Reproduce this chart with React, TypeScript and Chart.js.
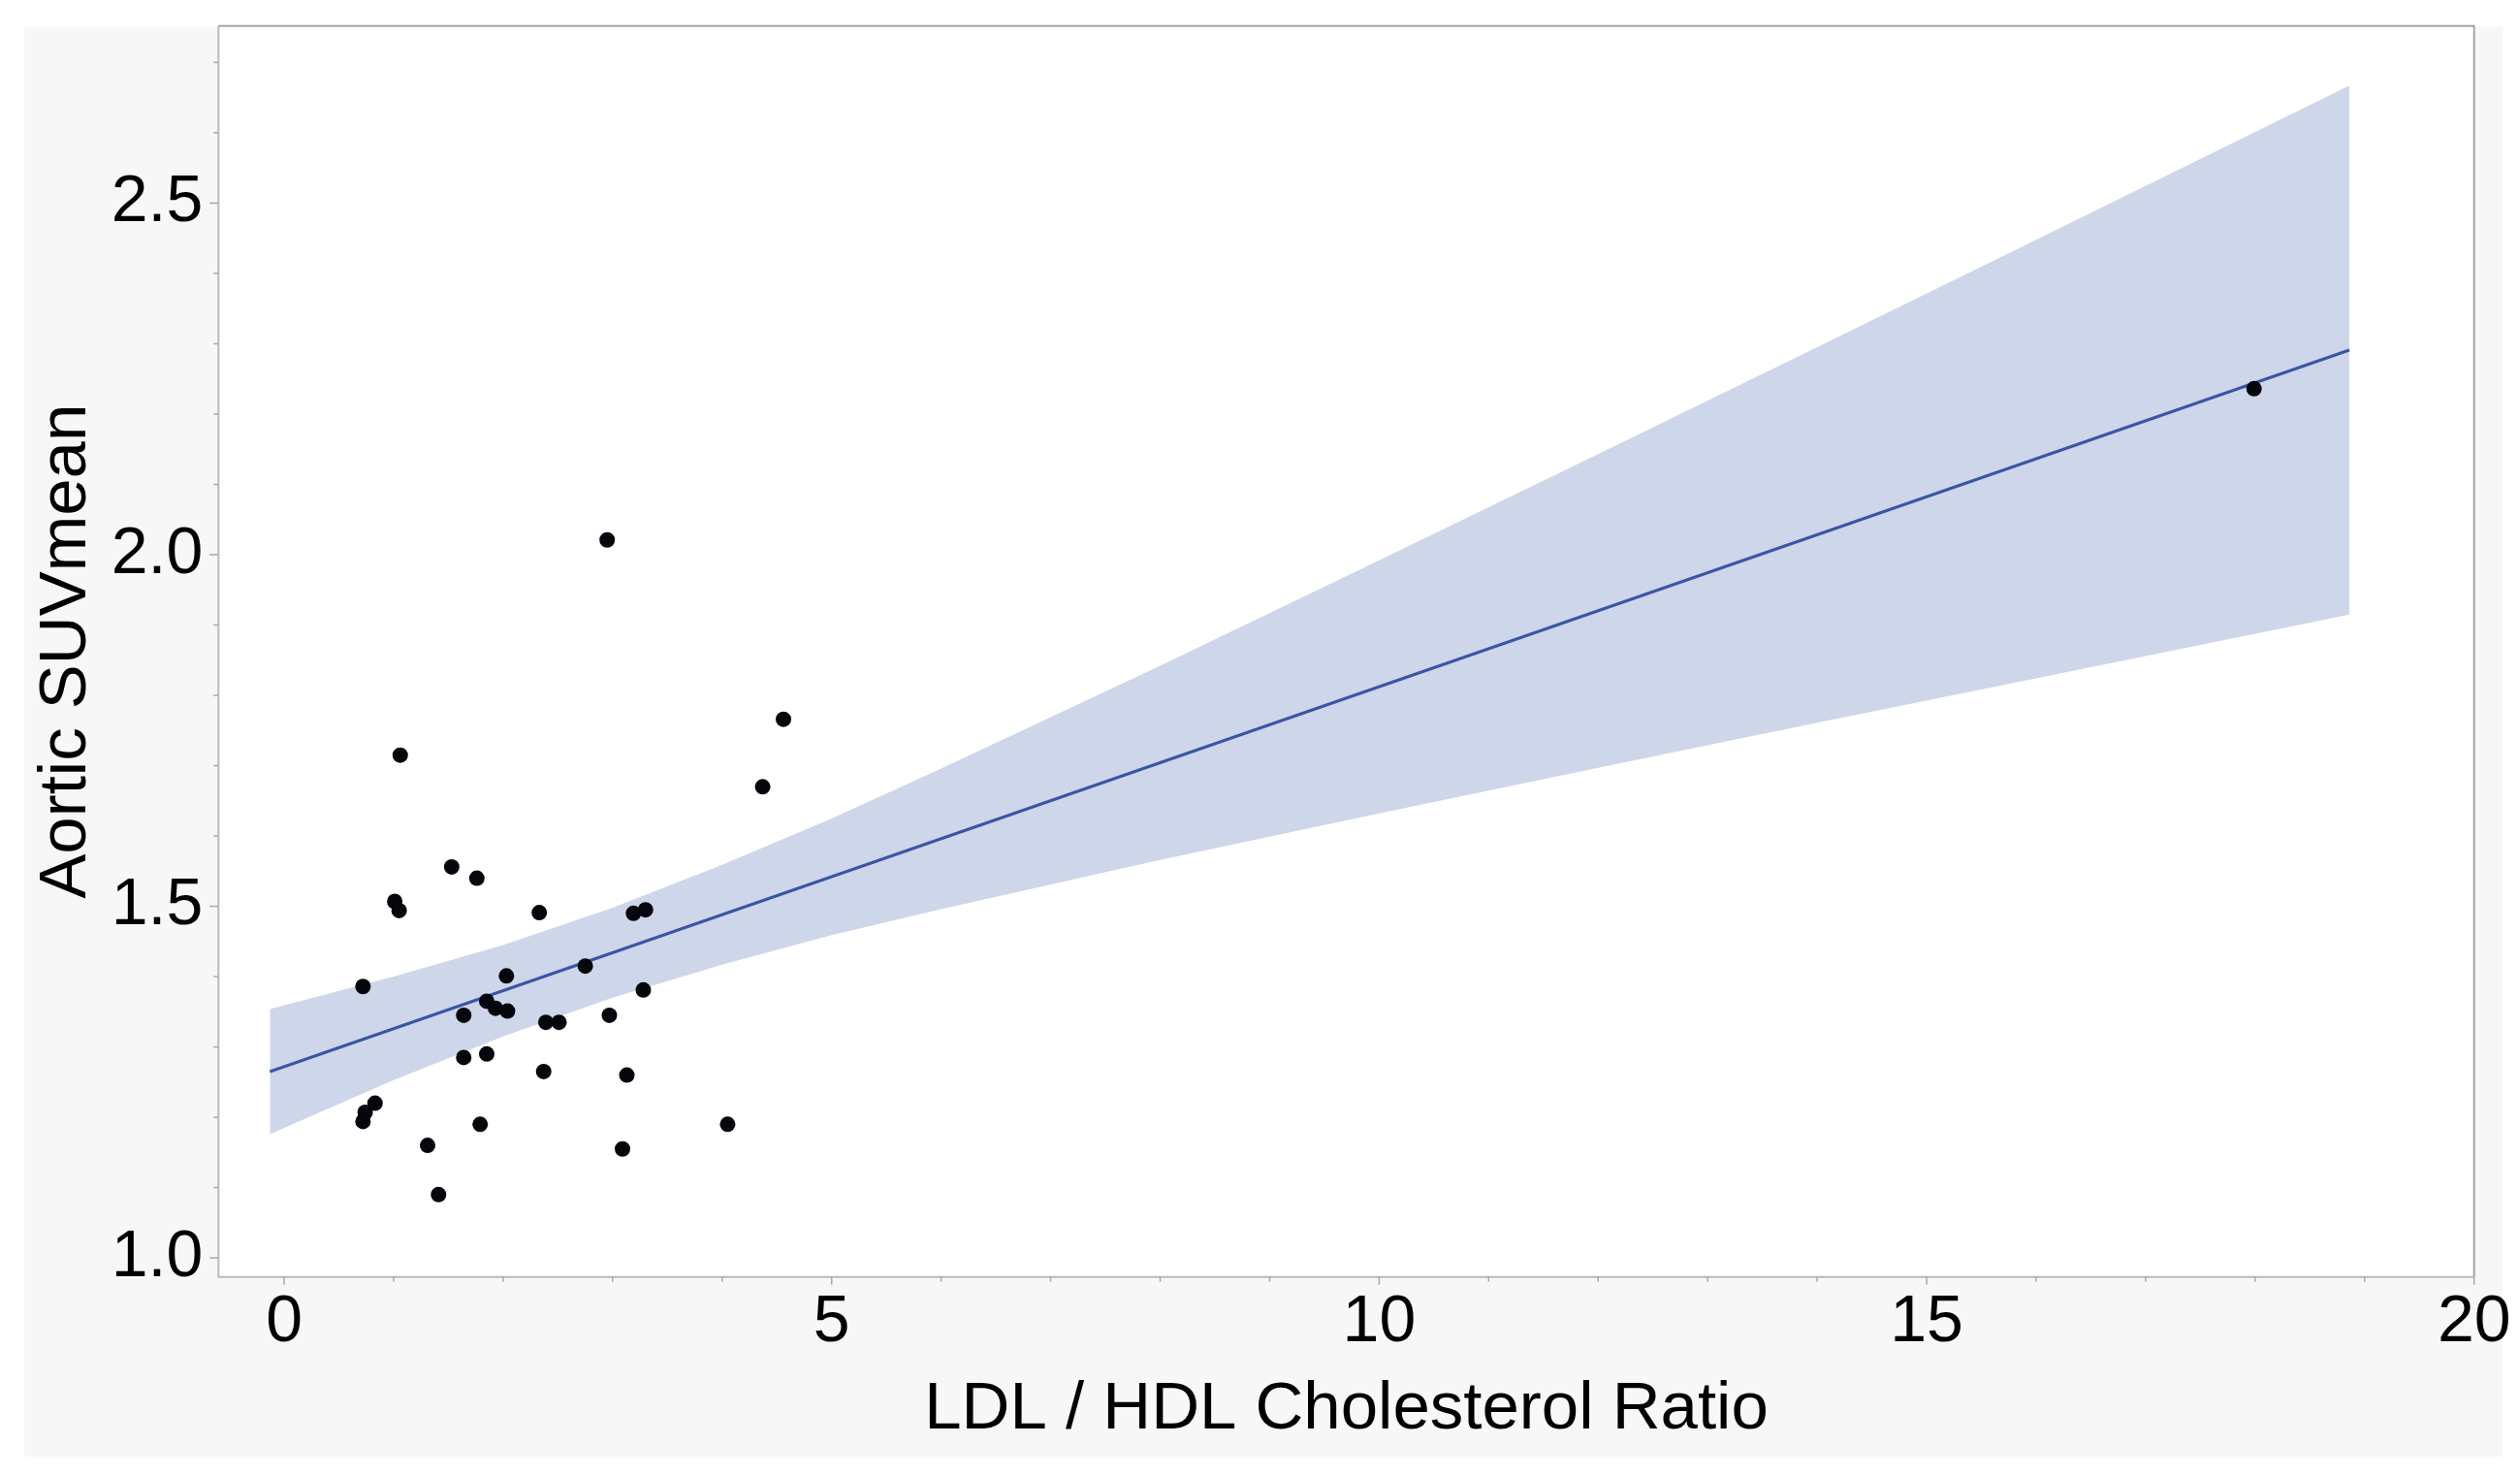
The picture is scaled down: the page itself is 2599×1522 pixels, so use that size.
import React, { useEffect, useRef } from "react";
import { Chart, registerables } from "chart.js";

Chart.register(...registerables);

// Observed points (LDL/HDL ratio, Aortic SUVmean)
const pointX = [
  1.06, 4.56, 4.37, 1.53, 1.76, 1.01, 1.05, 2.33, 3.19, 3.30, 2.75, 0.72,
  2.03, 3.28, 1.85, 1.93, 2.04, 1.64, 2.39, 2.51, 2.97, 1.64, 1.85, 2.37,
  3.13, 0.83, 0.74, 0.72, 1.79, 4.05, 1.31, 3.09, 1.41, 2.95, 17.99,
];
const pointY = [
  1.715, 1.766, 1.670, 1.556, 1.540, 1.507, 1.494, 1.491, 1.490, 1.495, 1.415, 1.386,
  1.401, 1.381, 1.365, 1.355, 1.351, 1.345, 1.335, 1.335, 1.345, 1.285, 1.290, 1.265,
  1.260, 1.220, 1.207, 1.194, 1.190, 1.190, 1.160, 1.155, 1.090, 2.021, 2.236,
];

// Fitted regression line end points
const fitX = [-0.13, 18.86];
const fitY = [1.265, 2.291];

// Confidence band read at several x positions
const bandX = [-0.13, 1, 2, 3, 4, 5, 6, 8, 10, 12, 14, 16, 18.86];
const bandUpper = [1.354, 1.4, 1.445, 1.498, 1.559, 1.625, 1.696, 1.842, 1.992, 2.143, 2.295, 2.448, 2.667];
const bandLower = [1.176, 1.253, 1.315, 1.37, 1.417, 1.459, 1.496, 1.566, 1.632, 1.697, 1.761, 1.824, 1.915];

// Axis definitions
const xMin = -0.6;
const xMax = 20;
const yMin = 0.973;
const yMax = 2.752;
const xMajorStep = 5;
const xMinorStep = 1;
const yMajorStep = 0.5;
const yMinorStep = 0.1;

const xTitle = "LDL / HDL Cholesterol Ratio";
const yTitle = "Aortic SUVmean";

const FONT = "'Liberation Sans', Arial, Helvetica, sans-serif";

const isMultiple = (v: number, step: number) =>
  Math.abs(v / step - Math.round(v / step)) < 1e-6;

const framePlugin = {
  id: "frame",
  beforeDraw(chart: any) {
    const { ctx, chartArea: a } = chart;
    ctx.save();
    ctx.fillStyle = "#f7f7f7";
    ctx.fillRect(25, 27, 2556, 1475);
    ctx.fillStyle = "#ffffff";
    ctx.fillRect(a.left, a.top, a.right - a.left, a.bottom - a.top);
    ctx.restore();
  },
  afterDraw(chart: any) {
    const { ctx, chartArea: a, scales } = chart;
    ctx.save();
    ctx.lineWidth = 2;
    ctx.strokeStyle = "#a4a4a4";
    ctx.beginPath();
    ctx.moveTo(a.left, a.top);
    ctx.lineTo(a.right, a.top);
    ctx.lineTo(a.right, a.bottom);
    ctx.stroke();
    ctx.strokeStyle = "#bababa";
    ctx.beginPath();
    ctx.moveTo(a.left, a.top);
    ctx.lineTo(a.left, a.bottom);
    ctx.lineTo(a.right, a.bottom);
    ctx.stroke();

    ctx.strokeStyle = "#a8a8a8";
    ctx.lineWidth = 1.5;
    scales.x.ticks.forEach((t: any) => {
      const px = scales.x.getPixelForValue(t.value);
      const major = isMultiple(t.value, xMajorStep);
      ctx.beginPath();
      ctx.moveTo(px, a.bottom);
      ctx.lineTo(px, a.bottom + (major ? 8 : 5));
      ctx.stroke();
    });
    scales.y.ticks.forEach((t: any) => {
      const py = scales.y.getPixelForValue(t.value);
      const major = isMultiple(t.value, yMajorStep);
      ctx.beginPath();
      ctx.moveTo(a.left, py);
      ctx.lineTo(a.left - (major ? 9 : 5), py);
      ctx.stroke();
    });
    ctx.restore();
  },
};

export default function App() {
  const ref = useRef<HTMLCanvasElement>(null);

  useEffect(() => {
    if (!ref.current) return;
    const points = pointX.map((x, i) => ({ x, y: pointY[i] }));
    const fit = fitX.map((x, i) => ({ x, y: fitY[i] }));
    const upper = bandX.map((x, i) => ({ x, y: bandUpper[i] }));
    const lower = bandX.map((x, i) => ({ x, y: bandLower[i] }));

    const chart = new Chart(ref.current, {
      type: "scatter",
      data: {
        datasets: [
          {
            label: "Observations",
            data: points,
            backgroundColor: "#05070d",
            borderWidth: 0,
            pointRadius: 8,
            pointHoverRadius: 8,
          },
          {
            label: "Fit",
            data: fit,
            showLine: true,
            borderColor: "#3a55a6",
            borderWidth: 3,
            pointRadius: 0,
            fill: false,
          },
          {
            label: "Upper",
            data: upper,
            showLine: true,
            borderWidth: 0,
            borderColor: "rgba(0,0,0,0)",
            backgroundColor: "#ced7e9",
            pointRadius: 0,
            fill: "+1",
            tension: 0,
          },
          {
            label: "Lower",
            data: lower,
            showLine: true,
            borderWidth: 0,
            borderColor: "rgba(0,0,0,0)",
            pointRadius: 0,
            fill: false,
            tension: 0,
          },
        ],
      },
      options: {
        animation: false,
        responsive: true,
        maintainAspectRatio: false,
        devicePixelRatio: 1,
        layout: { padding: { left: 25, top: 26.7, right: 47.3, bottom: 20 } },
        plugins: {
          legend: { display: false },
          tooltip: { enabled: false },
        },
        scales: {
          x: {
            type: "linear",
            min: xMin,
            max: xMax,
            grid: { display: false, drawTicks: true, tickLength: 7 },
            border: { display: false },
            ticks: {
              stepSize: xMinorStep,
              includeBounds: false,
              autoSkip: false,
              maxRotation: 0,
              minRotation: 0,
              padding: 7,
              color: "#000000",
              font: { family: FONT, size: 68, lineHeight: 1 },
              callback: (v: any) => (isMultiple(Number(v), xMajorStep) ? String(Math.round(Number(v))) : ""),
            },
            title: {
              display: true,
              text: xTitle,
              color: "#000000",
              font: { family: FONT, size: 69, lineHeight: 1.2 },
              padding: { top: 0, bottom: 6.6 },
            },
            afterFit: (s: any) => {
              s.height = 185.3;
              s.paddingLeft = 0;
              s.paddingRight = 0;
            },
          },
          y: {
            type: "linear",
            min: yMin,
            max: yMax,
            grid: { display: false, drawTicks: true, tickLength: 9 },
            border: { display: false },
            ticks: {
              stepSize: yMinorStep,
              includeBounds: false,
              autoSkip: false,
              padding: 7,
              color: "#000000",
              font: { family: FONT, size: 68, lineHeight: 1 },
              callback: (v: any) => (isMultiple(Number(v), yMajorStep) ? Number(v).toFixed(1) : ""),
            },
            title: {
              display: true,
              text: yTitle,
              color: "#000000",
              font: { family: FONT, size: 69, lineHeight: 1.2 },
              padding: { top: 2.6, bottom: 0 },
            },
            afterFit: (s: any) => {
              s.width = 200.3;
              s.paddingTop = 0;
              s.paddingBottom = 0;
            },
          },
        },
      },
      plugins: [framePlugin],
    } as any);

    return () => chart.destroy();
  }, []);

  return (
    <div
      style={{
        position: "absolute",
        left: 0,
        top: 0,
        width: 2599,
        height: 1522,
        background: "#ffffff",
      }}
    >
      <canvas ref={ref} style={{ display: "block" }} />
    </div>
  );
}
